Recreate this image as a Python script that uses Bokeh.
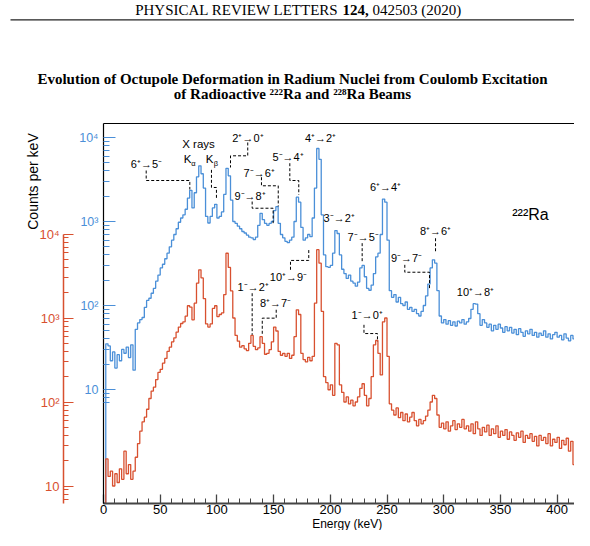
import math
import numpy as np
from bokeh.plotting import figure
from bokeh.models import (Range1d, LogScale, LogAxis, FixedTicker,
                          CustomJSTickFormatter, Label)
from bokeh.embed import file_html
from bokeh.resources import INLINE

# ---------------- data ----------------
BIN_KEV = 2  # histogram bin width (keV); bins start at 0 keV

blue_counts = [
    0.44, 35, 33, 22, 28, 18, 26, 22, 30, 27, 32, 24, 34, 17,
    52, 62, 68, 72, 95, 115, 122, 140, 160, 195, 230, 280, 310, 360, 420, 500,
    600, 700, 820, 980, 1100, 1200, 1400, 1900, 2350, 1450,
    2200, 3400, 4600, 3700, 2500, 1150, 960, 1150, 1450, 1600,
    1100, 1150, 1300, 2100, 4300, 3500, 1800, 1000, 950, 880,
    820, 760, 730, 690, 650, 640, 610, 650, 900, 1250,
    1050, 950, 900, 950, 1000, 1350, 1500, 950, 700, 640,
    580, 560, 600, 650, 1000, 1950, 1700, 850, 600, 640,
    700, 660, 1100, 2500, 7400, 5500, 1200, 400, 290, 285,
    300, 420, 780, 720, 400, 270, 240, 210, 230, 195,
    185, 170, 190, 280, 300, 220, 160, 152, 175, 240,
    380, 420, 700, 1850, 1700, 600, 150, 125, 135, 110,
    125, 105, 100, 110, 90, 95, 85, 90, 80, 75,
    85, 100, 130, 180, 280, 350, 320, 150, 75, 62,
    68, 60, 66, 58, 64, 57, 65, 62, 68, 60,
    64, 70, 90, 105, 104, 80, 58, 68, 62, 55,
    60, 50, 58, 52, 60, 54, 48, 56, 50, 55,
    47, 52, 45, 53, 48, 43, 50, 46, 52, 44,
    48, 42, 47, 44, 50, 42, 46, 40, 45, 48,
    42, 44, 39, 46, 41, 38, 44, 40, 36, 42,
    38, 30, 40, 44, 36,
]

red_counts = [
    6.2, 21, 13, 15, 10, 14, 11, 16, 12, 26, 14, 18, 12, 15,
    22, 32, 45, 58, 66, 82, 110, 135, 150, 185, 225, 245, 290, 330, 400, 450,
    520, 580, 680, 780, 860, 900, 1050, 1400, 1350, 950,
    1500, 2600, 3750, 3000, 1700, 850, 780, 850, 1300, 1400,
    1040, 1100, 1150, 1900, 5900, 4000, 2100, 1000, 620, 530,
    450, 470, 430, 410, 500, 620, 460, 420, 440, 600,
    500, 370, 380, 420, 520, 780, 700, 400, 360, 380,
    350, 380, 330, 360, 600, 1250, 1100, 380, 320, 300,
    340, 310, 350, 1500, 6500, 4500, 1200, 200, 170, 140,
    160, 120, 500, 480, 160, 130, 100, 115, 95, 105,
    90, 100, 115, 145, 165, 120, 90, 110, 200, 480,
    540, 380, 210, 900, 1000, 350, 95, 80, 70, 85,
    65, 75, 60, 72, 58, 66, 75, 60, 52, 62,
    55, 60, 68, 80, 100, 120, 110, 70, 50, 56,
    48, 58, 45, 52, 60, 47, 55, 50, 62, 48,
    52, 45, 55, 42, 58, 48, 40, 50, 44, 53,
    40, 48, 42, 52, 38, 45, 40, 47, 36, 44,
    40, 35, 43, 38, 45, 33, 40, 37, 42, 34,
    39, 30, 40, 35, 38, 32, 42, 30, 36, 33,
    38, 28, 35, 31, 37, 26, 34, 18, 33, 30,
    35, 28, 32, 24, 30,
]

X_TICKS = [0, 50, 100, 150, 200, 250, 300, 350, 400]
X_TICK_LABELS = ["0", "50", "100", "150", "200", "250", "300", "350", "400"]
X_MINOR = [e for e in range(0, 430, 10) if e % 50 != 0]
Y_TICKS = [10, 100, 1000, 10000]
Y_TICK_LABELS = ["10", "10\u00b2", "10\u00b3", "10\u2074"]
Y_MINOR = [7, 8, 9] + [m * d for d in (10, 100, 1000) for m in range(2, 10)]

# transition labels: (text, energy keV, counts)
blue_labels = [
    ("6\u207a\u21925\u207b", 37.9, 4900),
    ("2\u207a\u21920\u207a", 127.4, 10000),
    ("4\u207a\u21922\u207a", 191.4, 10000),
    ("5\u207b\u21924\u207a", 162.7, 5780),
    ("7\u207b\u21926\u207a", 137.3, 3830),
    ("9\u207b\u21928\u207a", 129.2, 1990),
    ("10\u207a\u21929\u207b", 163.1, 221),
    ("3\u207b\u21922\u207a", 207.8, 1086),
    ("6\u207a\u21924\u207a", 248.7, 2576),
    ("7\u207b\u21925\u207b", 229.0, 653),
    ("8\u207a\u21926\u207a", 292.8, 771),
    ("9\u207b\u21927\u207b", 267.2, 367),
    ("10\u207a\u21928\u207a", 328.0, 143),
]
red_labels = [
    ("1\u207b\u21922\u207a", 132.0, 2338),
    ("8\u207a\u21927\u207b", 151.7, 1500),
    ("1\u207b\u21920\u207a", 232.5, 1086),
]
blue_leaders = [
    [(37.65, 4045), (37.65, 3076), (76.1, 3076), (76.1, 2404)],
    [(95.2, 4120), (95.2, 2541), (99.6, 2541), (99.6, 1893)],
    [(127.2, 8720), (127.2, 6055), (112.0, 6055), (112.0, 4394)],
    [(164.3, 4943), (164.3, 3076), (172.2, 3076), (172.2, 2080)],
    [(139.3, 3366), (139.3, 2662), (154.1, 2662), (154.1, 1510)],
    [(131.1, 1729), (131.1, 1439), (149.6, 1439), (149.6, 955)],
    [(164.9, 266), (164.9, 344), (181.0, 344), (181.0, 460)],
    [(228.1, 552), (228.1, 319)],
    [(292.8, 632), (292.8, 428)],
    [(265.7, 305), (265.7, 249), (287.5, 249), (287.5, 161)],
]
red_leaders = [
    [(131.1, 1972), (131.1, 631)],
    [(152.3, 1254), (152.3, 996), (140.0, 996), (140.0, 614)],
    [(229.7, 830), (229.7, 653), (241.6, 653), (241.6, 525)],
]

# ---------------- geometry / style ----------------
W, H = 574, 530
SHIFT = 4            # view is scrolled up by this many pixels to fit the height
PX_PER_KEV = 1.134
X0_PX = 103          # pixel column of 0 keV (plot frame left edge)
PX_PER_DECADE = 84
BLUE_1E4_PX = 141    # pixel row of 10^4 on the 222Ra scale
RED_1E4_PX = 237.5   # pixel row of 10^4 on the 228Ra scale
FRAME_TOP, FRAME_BOTTOM = 127, 507
RED_AXIS_PX = 63

def ex(px):
    return (px - X0_PX) / PX_PER_KEV

def by(py):
    return 10 ** (4 - (py - BLUE_1E4_PX) / PX_PER_DECADE)

def ry(py):
    return 10 ** (4 - (py - RED_1E4_PX) / PX_PER_DECADE)

BLUE = "#4a8fd8"
RED = "#d8502f"
SANS = "Liberation Sans"
SERIF = "Liberation Serif"

p = figure(width=W, height=H, x_range=Range1d(ex(0), ex(W)),
           y_range=Range1d(by(H + SHIFT), by(SHIFT)), y_axis_type="log",
           output_backend="svg", toolbar_location=None, title_location=None,
           min_border=0)
p.extra_y_ranges = {"red": Range1d(ry(H + SHIFT), ry(SHIFT))}
p.extra_y_scales = {"red": LogScale()}
p.xgrid.visible = False
p.ygrid.visible = False
p.outline_line_color = None
p.background_fill_color = "white"
p.border_fill_color = "white"

fmt = CustomJSTickFormatter(args=dict(vals=Y_TICKS, labs=Y_TICK_LABELS), code="""
const i = vals.findIndex(v => Math.abs(v - tick) < 1e-6 * v);
return i >= 0 ? labs[i] : "";
""")

# blue (222Ra) axis, drawn at 0 keV
ya = p.yaxis[0]
ya.fixed_location = 0
ya.bounds = (by(FRAME_BOTTOM), by(FRAME_TOP))
ya.ticker = FixedTicker(ticks=Y_TICKS, minor_ticks=Y_MINOR)
ya.formatter = fmt
ya.axis_line_color = "black"
ya.axis_line_width = 1.2
ya.major_tick_in = 12
ya.major_tick_out = 0
ya.minor_tick_in = 6
ya.minor_tick_out = 0
ya.major_tick_line_color = BLUE
ya.minor_tick_line_color = BLUE
ya.major_label_text_color = BLUE
ya.major_label_text_font = SANS
ya.major_label_text_font_size = "12.5px"
ya.major_label_standoff = 5

# red (228Ra) axis
ra = LogAxis(y_range_name="red", fixed_location=ex(RED_AXIS_PX),
             bounds=(ry(FRAME_BOTTOM), 10000))
ra.ticker = FixedTicker(ticks=Y_TICKS, minor_ticks=Y_MINOR)
ra.formatter = fmt
ra.axis_line_color = RED
ra.axis_line_width = 1.5
ra.major_tick_in = 10
ra.major_tick_out = 0
ra.minor_tick_in = 5
ra.minor_tick_out = 0
ra.major_tick_line_color = RED
ra.minor_tick_line_color = RED
ra.major_label_text_color = RED
ra.major_label_text_font = SANS
ra.major_label_text_font_size = "13px"
ra.major_label_standoff = 4
p.add_layout(ra, "left")

xa = p.xaxis[0]
xa.fixed_location = by(FRAME_BOTTOM)
xa.bounds = (0, ex(W))
xa.ticker = FixedTicker(ticks=X_TICKS, minor_ticks=X_MINOR)
xa.major_label_overrides = {t: s for t, s in zip(X_TICKS, X_TICK_LABELS)}
xa.axis_line_color = "#444444"
xa.axis_line_width = 1.8
xa.major_tick_in = 9
xa.major_tick_out = 0
xa.minor_tick_in = 5
xa.minor_tick_out = 0
xa.major_tick_line_color = "#444444"
xa.minor_tick_line_color = "#444444"
xa.major_tick_line_width = 1.3
xa.major_label_text_color = "black"
xa.major_label_text_font = SANS
xa.major_label_text_font_size = "13px"
xa.major_label_standoff = 1

# top edge of the plot frame and rule under the journal header
p.line([0, ex(W)], [by(FRAME_TOP)] * 2, line_color="black", line_width=1.2)
p.line([ex(10), ex(W)], [by(23.3)] * 2, line_color="#222222", line_width=1.3)

# spectra as step histograms
xb = list(np.arange(len(blue_counts) + 1) * BIN_KEV)
p.step(xb, blue_counts + [blue_counts[-1]], mode="after", line_color=BLUE, line_width=1.3)
xr = list(np.arange(len(red_counts) + 1) * BIN_KEV)
p.step(xr, red_counts + [red_counts[-1]], mode="after", line_color=RED, line_width=1.3,
       y_range_name="red")

# leaders
for pts in blue_leaders:
    p.line([a for a, b in pts], [b for a, b in pts], line_color="black",
           line_width=1, line_dash="3 2")
for pts in red_leaders:
    p.line([a for a, b in pts], [b for a, b in pts], line_color="black",
           line_width=1, line_dash="3 2", y_range_name="red")

def lab(text, x, y, size="11px", rng="default", **kw):
    args = dict(x=x, y=y, text=text, text_font=SANS, text_font_size=size,
                text_color="black", text_align="center", text_baseline="middle")
    args.update(kw)
    if rng != "default":
        args["y_range_name"] = rng
    p.add_layout(Label(**args))

for t, e, c in blue_labels:
    lab(t, e, c)
for t, e, c in red_labels:
    lab(t, e, c, rng="red")

lab("X rays", ex(198), by(147.5), size="11.5px")
lab("K", ex(187), by(162.5), size="11.5px")
lab("\u03b1", ex(193), by(166.5), size="7.5px")
lab("K", ex(209), by(162.5), size="11.5px")
lab("\u03b2", ex(215.3), by(166.5), size="7.5px")
lab("\u00b2\u00b2\u00b2Ra", ex(530), by(218), size="16px")

# axis titles
lab("Counts per keV", ex(32), by(185), size="14px", angle=math.pi / 2)
lab("Energy (keV)", ex(346.7), by(527.5), size="12px")

def serif(text, px, py, size="15px", bold=False, align="center"):
    p.add_layout(Label(x=ex(px), y=by(py), text=text, text_font=SERIF,
                       text_font_size=size,
                       text_font_style="bold" if bold else "normal",
                       text_color="black", text_align=align, text_baseline="middle"))

serif("PHYSICAL REVIEW LETTERS", 338, 13.5, align="right")
serif("124,", 342, 13.5, bold=True, align="left")
serif("042503 (2020)", 372, 13.5, align="left")
serif("Evolution of Octupole Deformation in Radium Nuclei from Coulomb Excitation",
      292, 82.5, bold=True)
serif("of Radioactive \u00b2\u00b2\u00b2Ra and \u00b2\u00b2\u2078Ra Beams",
      292, 97, bold=True)

open("out.html", "w").write(file_html(p, INLINE))
